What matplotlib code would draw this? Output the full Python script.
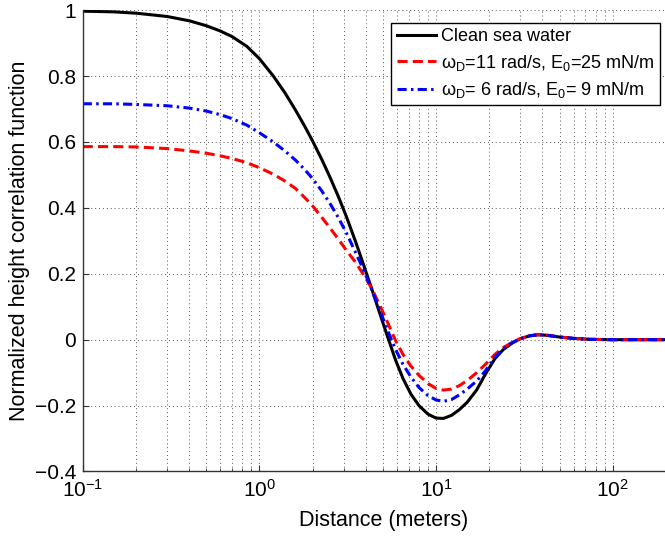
import numpy as np
import matplotlib as mpl
mpl.use("Agg")
import matplotlib.pyplot as plt
from matplotlib.ticker import LogLocator, NullFormatter

plt.rcParams['font.family'] = ['Liberation Sans', 'DejaVu Sans']
plt.rcParams['mathtext.fontset'] = 'custom'
plt.rcParams['mathtext.rm'] = 'Liberation Sans'
plt.rcParams['mathtext.it'] = 'Liberation Sans:italic'

# distance (m), values
dist = [0.1, 0.15, 0.2, 0.3, 0.4, 0.5, 0.6, 0.7, 0.85, 1.0, 1.2, 1.4, 1.6,
        1.8, 2.0, 2.25, 2.5, 2.8, 3.1, 3.5, 3.9, 4.3, 4.8, 5.3, 5.9, 6.5,
        7.2, 8.0, 9.0, 10, 11, 12.2, 13.5, 15, 17, 19, 21.5, 24, 27, 30,
        34, 38, 43, 50, 60, 75, 100, 140, 200]

clean = [0.997, 0.995, 0.991, 0.981, 0.968, 0.953, 0.937, 0.92, 0.89, 0.853,
         0.80, 0.748, 0.697, 0.649, 0.603, 0.548, 0.495, 0.434, 0.375, 0.298,
         0.225, 0.158, 0.08, 0.011, -0.062, -0.118, -0.165, -0.20, -0.226,
         -0.238, -0.239, -0.23, -0.213, -0.19, -0.152, -0.105, -0.058, -0.03,
         -0.01, 0.003, 0.012, 0.015, 0.013, 0.008, 0.004, 0.001, 0.0, 0.0, 0.0]

film11 = [0.586, 0.586, 0.585, 0.580, 0.573, 0.566, 0.558, 0.55, 0.537, 0.522,
          0.502, 0.481, 0.459, 0.432, 0.406, 0.372, 0.340, 0.305, 0.272, 0.235,
          0.196, 0.158, 0.105, 0.054, -0.003, -0.045, -0.08, -0.108, -0.133,
          -0.148, -0.153, -0.15, -0.14, -0.124, -0.10, -0.075, -0.045, -0.024,
          -0.008, 0.003, 0.012, 0.015, 0.013, 0.008, 0.004, 0.001, 0.0, 0.0, 0.0]

film6 = [0.716, 0.716, 0.714, 0.710, 0.703, 0.694, 0.683, 0.671, 0.651, 0.628,
         0.600, 0.572, 0.545, 0.517, 0.489, 0.452, 0.415, 0.37, 0.325, 0.265,
         0.21, 0.155, 0.09, 0.03, -0.03, -0.075, -0.113, -0.145, -0.17,
         -0.183, -0.187, -0.182, -0.168, -0.15, -0.125, -0.095, -0.055, -0.028,
         -0.009, 0.003, 0.012, 0.015, 0.013, 0.008, 0.004, 0.001, 0.0, 0.0, 0.0]

labels = ['Clean sea water',
          r'$\mathregular{\omega_D}$=11 rad/s, E$\mathregular{_0}$=25 mN/m',
          r'$\mathregular{\omega_D}$= 6 rad/s, E$\mathregular{_0}$= 9 mN/m']

fig = plt.figure(figsize=(6.65, 5.4), dpi=100)
ax = fig.add_axes([0.1244, 0.1269, 0.877, 0.8542])

ax.plot(dist, clean, 'k-', lw=2.2, label=labels[0])
ax.plot(dist, film11, '--', color='#ff0000', lw=2.2, dashes=(3.3, 1.7), label=labels[1])
ax.plot(dist, film6, '-.', color='#0000ff', lw=2.2, dashes=(3.0, 1.4, 0.8, 1.4), label=labels[2])

ax.set_xscale('log')
ax.set_xlim(0.1, 200)
ax.set_ylim(-0.4, 1)
ax.set_yticks([-0.4, -0.2, 0, 0.2, 0.4, 0.6, 0.8, 1])
ax.set_yticklabels(['\u22120.4', '\u22120.2', '0', '0.2', '0.4', '0.6', '0.8', '1'])
ax.xaxis.set_minor_locator(LogLocator(base=10, subs=np.arange(2, 10)))
ax.xaxis.set_minor_formatter(NullFormatter())

ax.grid(True, which='major', linestyle=(0, (1, 3)), color='#555555', lw=0.7)
ax.grid(True, which='minor', axis='x', linestyle=(0, (1, 3)), color='#555555', lw=0.7)

for s in ['top', 'right']:
    ax.spines[s].set_visible(False)
for s in ['left', 'bottom']:
    ax.spines[s].set_color('#333333')
    ax.spines[s].set_linewidth(1.0)

ax.tick_params(which='major', direction='in', length=4, labelsize=15, color='#333333')
ax.tick_params(axis='y', pad=4.7)
ax.tick_params(axis='x', pad=5)
ax.tick_params(which='minor', direction='in', length=2, color='#333333')

ax.set_xlabel('Distance (meters)', fontsize=15.5, va='center')
ax.xaxis.set_label_coords(0.5165, -0.107)
ax.set_ylabel('Normalized height correlation function', fontsize=15.5, va='center')
ax.yaxis.set_label_coords(-0.108, 0.5)

leg = ax.legend(loc='upper right', bbox_to_anchor=(660 / 665, 1 - 23 / 540),
                bbox_transform=fig.transFigure, fontsize=13, fancybox=False,
                framealpha=1, edgecolor='black', handlelength=2.15,
                handletextpad=0.3, borderpad=0.3, labelspacing=0.4,
                borderaxespad=0)
leg.get_frame().set_linewidth(1.0)

fig.savefig('out.png', dpi=100)
